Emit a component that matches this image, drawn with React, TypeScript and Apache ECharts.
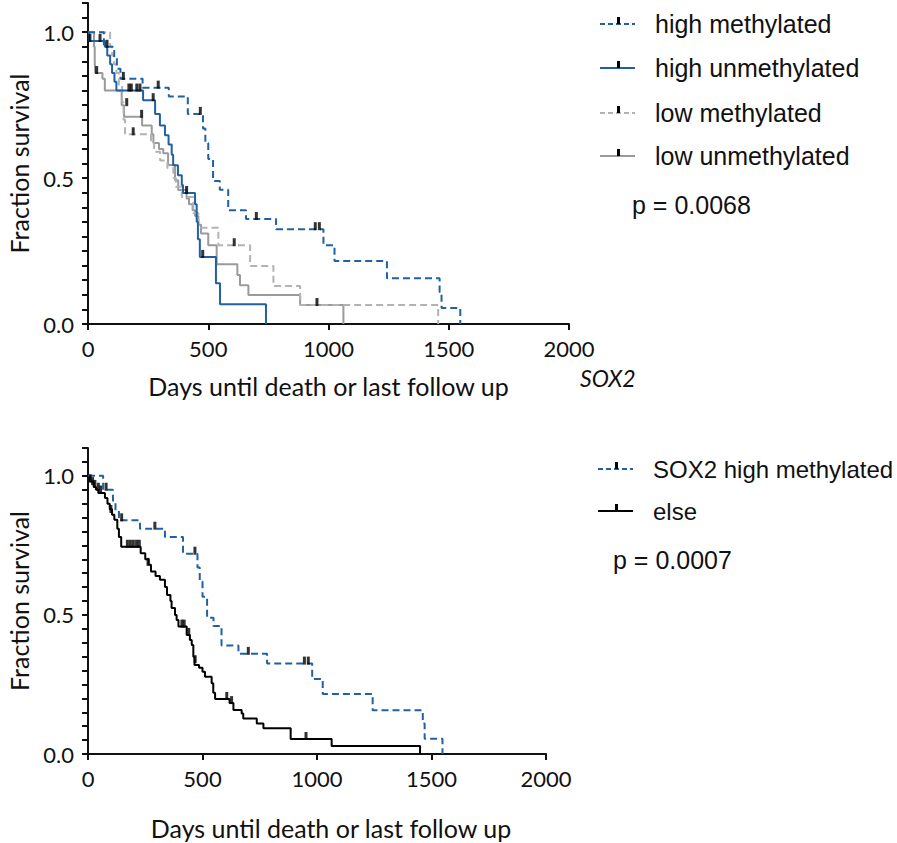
import React, { useEffect, useRef } from "react";
import * as echarts from "echarts";

// ---------- data (days, fraction surviving) ----------
const xTickValues = [0, 500, 1000, 1500, 2000];

const highMethylated: number[][] = [
  [0, 1], [66, 0.95], [109, 0.91], [120, 0.875], [135, 0.84], [227, 0.81], [336, 0.78],
  [415, 0.72], [478, 0.67], [488, 0.62], [500, 0.565], [520, 0.49], [548, 0.46], [583, 0.39],
  [657, 0.36], [782, 0.325], [979, 0.27], [1025, 0.216], [1243, 0.157], [1462, 0.11],
  [1470, 0.055], [1548, 0],
];
const highMethylatedCensor: number[][] = [
  [79, 0.95], [147, 0.84], [292, 0.81], [467, 0.72], [700, 0.36], [945, 0.325], [962, 0.325],
];

const highUnmethylated: number[][] = [
  [0, 1], [5, 0.97], [70, 0.95], [80, 0.92], [92, 0.89], [100, 0.86], [110, 0.83], [118, 0.8],
  [229, 0.767], [279, 0.72], [299, 0.68], [320, 0.647], [335, 0.615], [348, 0.58], [354, 0.544],
  [374, 0.51], [390, 0.476], [395, 0.449], [445, 0.41], [452, 0.35], [457, 0.29], [465, 0.23],
  [532, 0.14], [549, 0.068], [740, 0],
];
const highUnmethylatedCensor: number[][] = [
  [8, 0.97], [50, 0.97], [170, 0.8], [180, 0.8], [203, 0.8], [216, 0.8], [271, 0.767],
  [410, 0.449], [477, 0.23],
];

const lowMethylated: number[][] = [
  [0, 1], [92, 0.95], [100, 0.92], [108, 0.89], [118, 0.86], [128, 0.82], [142, 0.76],
  [148, 0.7], [154, 0.65], [262, 0.62], [275, 0.59], [300, 0.56], [330, 0.535], [355, 0.5],
  [365, 0.47], [390, 0.435], [438, 0.38], [459, 0.33], [542, 0.27], [674, 0.199], [771, 0.13],
  [882, 0.065], [1456, 0],
];
const lowMethylatedCensor: number[][] = [[188, 0.65], [608, 0.27]];

const lowUnmethylated: number[][] = [
  [0, 1], [25, 0.95], [28, 0.9], [30, 0.86], [60, 0.84], [70, 0.8], [140, 0.75], [150, 0.71],
  [225, 0.68], [265, 0.65], [272, 0.62], [295, 0.6], [313, 0.585], [333, 0.545], [362, 0.493],
  [375, 0.459], [410, 0.43], [420, 0.41], [435, 0.39], [445, 0.37], [459, 0.34], [470, 0.31],
  [500, 0.27], [535, 0.205], [621, 0.168], [632, 0.133], [667, 0.099], [882, 0.065], [1062, 0],
];
const lowUnmethylatedCensor: number[][] = [[36, 0.86], [161, 0.75], [223, 0.71], [952, 0.065]];

const elseGroup: number[][] = [
  [0, 1], [8, 0.98], [25, 0.96], [35, 0.95], [45, 0.938], [74, 0.92], [85, 0.9], [95, 0.88],
  [105, 0.86], [115, 0.842], [128, 0.81], [135, 0.78], [145, 0.745], [230, 0.722], [250, 0.7],
  [265, 0.68], [275, 0.656], [295, 0.64], [314, 0.626], [336, 0.6], [345, 0.572], [360, 0.55],
  [365, 0.525], [380, 0.5], [387, 0.482], [395, 0.458], [431, 0.428], [445, 0.41], [453, 0.392],
  [460, 0.35], [465, 0.32], [485, 0.31], [500, 0.296], [511, 0.278], [540, 0.254], [547, 0.22],
  [555, 0.198], [618, 0.183], [635, 0.158], [671, 0.146], [678, 0.128], [737, 0.11],
  [766, 0.093], [885, 0.054], [1064, 0.029], [1450, 0],
];
const elseCensor: number[][] = [
  [10, 0.98], [20, 0.97], [30, 0.96], [45, 0.95], [55, 0.94], [100, 0.87], [172, 0.745],
  [185, 0.745], [198, 0.745], [212, 0.745], [224, 0.745], [262, 0.68], [410, 0.458],
  [420, 0.458], [440, 0.428], [468, 0.33], [606, 0.198], [627, 0.183], [952, 0.054],
];

const topLegend = ["high methylated", "high unmethylated", "low methylated", "low unmethylated"];
const bottomLegend = ["SOX2 high methylated", "else"];
const topP = "p = 0.0068";
const bottomP = "p = 0.0007";
const geneLabel = "SOX2";

// ---------- styles ----------
const BLUE = "#2161a3";
const GREY_SOLID = "#9a9a9a";
const GREY_DASH = "#b2b2b2";
const BLACK = "#000000";
const AXIS_FONT = "Lato";
const LEG_FONT = "Liberation Sans";

function yLabel(v: number) {
  const r = Math.round(v * 2);
  return Math.abs(v * 2 - r) < 1e-6 ? (r / 2).toFixed(1) : "";
}

function xLabel(v: number) {
  return xTickValues.indexOf(Math.round(v)) >= 0 ? String(Math.round(v)) : "";
}

function makeX(gridIndex: number, nameGap: number, namePad: number) {
  return {
    type: "value",
    gridIndex,
    min: 0,
    max: 2000,
    interval: 500,
    name: "Days until death or last follow up",
    nameLocation: "middle",
    nameGap,
    nameTextStyle: { fontFamily: AXIS_FONT, fontSize: 25, color: "#111", padding: [0, 0, 0, namePad] },
    axisLine: { show: true, onZero: false, lineStyle: { color: "#111", width: 2 } },
    axisTick: { show: true, inside: false, length: 6, lineStyle: { color: "#111", width: 2 } },
    axisLabel: { margin: 13, fontFamily: AXIS_FONT, fontSize: 22, color: "#111", formatter: xLabel },
    splitLine: { show: false },
  };
}

function makeY(gridIndex: number) {
  return {
    type: "value",
    gridIndex,
    min: 0,
    max: 1.1,
    interval: 0.05,
    name: "Fraction survival",
    nameLocation: "middle",
    nameGap: 57,
    nameTextStyle: { fontFamily: AXIS_FONT, fontSize: 25, color: "#111" },
    axisLine: { show: true, onZero: false, lineStyle: { color: "#111", width: 2 } },
    axisTick: { show: true, inside: false, length: 6, lineStyle: { color: "#111", width: 2 } },
    axisLabel: { margin: 14, fontFamily: AXIS_FONT, fontSize: 22, color: "#111", formatter: yLabel },
    splitLine: { show: false },
  };
}

function curve(data: number[][], g: number, color: string, dashed: boolean, z: number) {
  return {
    type: "line",
    xAxisIndex: g,
    yAxisIndex: g,
    data,
    step: "end",
    symbol: "none",
    silent: true,
    z,
    lineStyle: { color, width: 2, type: dashed ? [7, 4] : "solid" },
  };
}

function censor(data: number[][], g: number) {
  return {
    type: "scatter",
    xAxisIndex: g,
    yAxisIndex: g,
    data,
    symbol: "rect",
    symbolSize: [3, 8],
    symbolOffset: [0, -3],
    silent: true,
    z: 10,
    itemStyle: { color: BLACK },
  };
}

function legendItem(x: number, y: number, color: string, dashed: boolean, text: string, size: number) {
  return [
    {
      type: "line",
      shape: { x1: x, y1: y, x2: x + 35, y2: y },
      style: { stroke: color, lineWidth: 2, lineDash: dashed ? [5, 3] : null },
    },
    { type: "rect", shape: { x: x + 17, y: y - 7, width: 3, height: 7 }, style: { fill: BLACK } },
    {
      type: "text",
      x: x + 55,
      y,
      style: { text, fontFamily: LEG_FONT, fontSize: size, fill: "#111", verticalAlign: "middle", align: "left" },
    },
  ];
}

export default function App() {
  const ref = useRef<HTMLDivElement>(null);

  useEffect(() => {
    if (!ref.current) return;
    const chart = echarts.init(ref.current, undefined, { renderer: "svg" });
    const topLegendY = [24, 68, 113, 156];
    const topColors = [BLUE, BLUE, GREY_DASH, GREY_SOLID];
    const topDashed = [true, false, true, false];
    const graphics: any[] = [];
    topLegend.forEach((t, i) => graphics.push(...legendItem(600, topLegendY[i], topColors[i], topDashed[i], t, 25)));
    graphics.push(...legendItem(598, 469, BLUE, true, bottomLegend[0], 24));
    graphics.push(...legendItem(598, 511, BLACK, false, bottomLegend[1], 24));
    graphics.push({
      type: "text", x: 632, y: 205,
      style: { text: topP, fontFamily: LEG_FONT, fontSize: 25, fill: "#111", verticalAlign: "middle" },
    });
    graphics.push({
      type: "text", x: 613, y: 560,
      style: { text: bottomP, fontFamily: LEG_FONT, fontSize: 25, fill: "#111", verticalAlign: "middle" },
    });
    graphics.push({
      type: "text", x: 580, y: 378,
      style: { text: geneLabel, fontFamily: AXIS_FONT, fontStyle: "italic", fontSize: 23, fill: "#111", verticalAlign: "middle" },
    });

    chart.setOption({
      animation: false,
      backgroundColor: "#ffffff",
      grid: [
        { left: 88, top: 3, width: 481, height: 321, containLabel: false, outerBoundsMode: "none" },
        { left: 88, top: 448, width: 458, height: 306, containLabel: false, outerBoundsMode: "none" },
      ],
      xAxis: [makeX(0, 49, 0), makeX(1, 61, 28)],
      yAxis: [makeY(0), makeY(1)],
      series: [
        curve(lowUnmethylated, 0, GREY_SOLID, false, 2),
        curve(lowMethylated, 0, GREY_DASH, true, 3),
        curve(highUnmethylated, 0, BLUE, false, 4),
        curve(highMethylated, 0, BLUE, true, 5),
        censor(lowUnmethylatedCensor, 0),
        censor(lowMethylatedCensor, 0),
        censor(highUnmethylatedCensor, 0),
        censor(highMethylatedCensor, 0),
        curve(elseGroup, 1, BLACK, false, 3),
        curve(highMethylated, 1, BLUE, true, 4),
        censor(elseCensor, 1),
        censor(highMethylatedCensor, 1),
      ],
      graphic: graphics,
    });
    return () => chart.dispose();
  }, []);

  return (
    <div
      ref={ref}
      style={{ position: "fixed", left: 0, top: 0, width: 897, height: 843, background: "#fff" }}
    />
  );
}
